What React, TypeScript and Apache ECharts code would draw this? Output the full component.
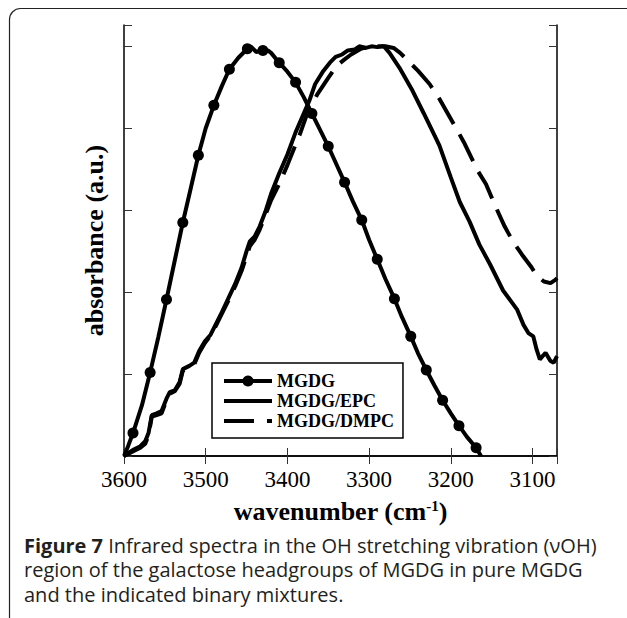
import React, { useEffect, useRef } from "react";
import * as echarts from "echarts";

// MGDG (pure) spectrum
const mgdgWave = [3600, 3595, 3589, 3578, 3568, 3558, 3548, 3538, 3528, 3518, 3509, 3500, 3490, 3480, 3471, 3460, 3449, 3445, 3438, 3430, 3424, 3420, 3410, 3400, 3390, 3380, 3370, 3360, 3350, 3340, 3330, 3320, 3309, 3300, 3290, 3280, 3269, 3260, 3249, 3240, 3230, 3220, 3210, 3200, 3190, 3180, 3169, 3163];
const mgdgAbs = [0, 0.12, 0.28, 0.62, 1.02, 1.45, 1.91, 2.38, 2.85, 3.28, 3.67, 4.0, 4.28, 4.52, 4.72, 4.86, 4.97, 5.0, 4.93, 4.95, 4.95, 4.92, 4.8, 4.69, 4.56, 4.38, 4.18, 3.98, 3.78, 3.56, 3.34, 3.11, 2.88, 2.64, 2.4, 2.16, 1.92, 1.7, 1.46, 1.25, 1.05, 0.86, 0.68, 0.52, 0.37, 0.23, 0.1, 0];
const mgdgMarkers = [3589, 3568, 3548, 3528, 3509, 3490, 3471, 3449, 3430, 3410, 3390, 3370, 3350, 3330, 3309, 3290, 3269, 3249, 3230, 3210, 3190, 3169];

// MGDG/EPC spectrum
const epcWave = [3600, 3594, 3588, 3580, 3574, 3570, 3566, 3560, 3554, 3548, 3544, 3538, 3532, 3528, 3520, 3514, 3508, 3501, 3494, 3488, 3480, 3472, 3464, 3456, 3450, 3446, 3440, 3434, 3427, 3420, 3410, 3400, 3390, 3380, 3373, 3366, 3356, 3348, 3341, 3333, 3326, 3318, 3312, 3304, 3297, 3290, 3282, 3275, 3263, 3248, 3233, 3214, 3200, 3189, 3177, 3165, 3152, 3136, 3119, 3111, 3105, 3099, 3095, 3091, 3084, 3078, 3074, 3070];
const epcAbs = [0, 0.04, 0.08, 0.12, 0.18, 0.28, 0.5, 0.52, 0.55, 0.7, 0.78, 0.8, 0.9, 1.06, 1.1, 1.14, 1.28, 1.4, 1.48, 1.6, 1.76, 1.93, 2.1, 2.3, 2.5, 2.62, 2.68, 2.8, 2.98, 3.2, 3.45, 3.68, 3.95, 4.18, 4.34, 4.54, 4.7, 4.8, 4.87, 4.9, 4.95, 4.96, 5.0, 4.98, 5.0, 4.99, 5.0, 4.92, 4.74, 4.48, 4.18, 3.79, 3.4, 3.1, 2.86, 2.58, 2.34, 2.02, 1.79, 1.6, 1.5, 1.46, 1.3, 1.18, 1.26, 1.16, 1.14, 1.22];

// MGDG/DMPC spectrum
const dmpcWave = [3600, 3594, 3588, 3580, 3574, 3570, 3566, 3560, 3554, 3548, 3544, 3538, 3532, 3528, 3520, 3514, 3508, 3501, 3494, 3488, 3480, 3472, 3464, 3456, 3450, 3446, 3440, 3434, 3427, 3420, 3410, 3400, 3390, 3385, 3375, 3363, 3351, 3340, 3330, 3322, 3310, 3300, 3290, 3280, 3270, 3262, 3255, 3240, 3226, 3214, 3194, 3184, 3167, 3157, 3145, 3134, 3124, 3113, 3101, 3095, 3086, 3078, 3072, 3070];
const dmpcAbs = [0, 0.03, 0.06, 0.1, 0.15, 0.25, 0.48, 0.5, 0.52, 0.68, 0.76, 0.79, 0.88, 1.04, 1.08, 1.12, 1.26, 1.38, 1.47, 1.58, 1.74, 1.9, 2.07, 2.26, 2.44, 2.56, 2.64, 2.76, 2.94, 3.12, 3.32, 3.55, 3.8, 3.92, 4.2, 4.42, 4.6, 4.76, 4.84, 4.9, 4.97, 5.0, 5.0, 5.0, 4.98, 4.92, 4.85, 4.7, 4.54, 4.36, 4.01, 3.83, 3.48, 3.32, 3.04, 2.8, 2.62, 2.46, 2.3, 2.2, 2.13, 2.11, 2.15, 2.17];

const seriesNames = ["MGDG", "MGDG/EPC", "MGDG/DMPC"];
const xTickValues = [3600, 3500, 3400, 3300, 3200, 3100];
const captionLines = [
  "{b|Figure 7} Infrared spectra in the OH stretching vibration (\u03bdOH)",
  "region of the galactose headgroups of MGDG in pure MGDG",
  "and the indicated binary mixtures.",
];

const SERIF = "'Liberation Serif', 'Times New Roman', serif";
const SANS = "'Open Sans', 'Noto Sans', sans-serif";
const LW = 4;

export default function App() {
  const ref = useRef<HTMLDivElement>(null);

  useEffect(() => {
    if (!ref.current) return;
    const chart = echarts.init(ref.current, null, { renderer: "svg" });

    const mgdgData = mgdgWave.map((w, i) => ({
      value: [w, mgdgAbs[i]],
      symbol: mgdgMarkers.includes(w) ? "circle" : "none",
    }));
    const epcData = epcWave.map((w, i) => [w, epcAbs[i]]);
    const dmpcData = dmpcWave.map((w, i) => [w, dmpcAbs[i]]);

    const axisLine = { show: true, lineStyle: { color: "#000", width: 1.5 } };
    const tick = { show: true, inside: true, length: 8, lineStyle: { color: "#333", width: 1 } };

    const xCommon = {
      type: "value",
      inverse: true,
      min: 3070,
      max: 3600,
      minInterval: 100,
      maxInterval: 100,
      splitLine: { show: false },
      axisLine,
      axisTick: tick,
    };
    const yCommon = {
      type: "value",
      min: 0,
      max: 5.26,
      interval: 1,
      splitLine: { show: false },
      axisLine,
      axisTick: tick,
      axisLabel: { show: false },
    };

    chart.setOption({
      animation: false,
      backgroundColor: "#fff",
      grid: { left: 124, top: 25, width: 433, height: 431, containLabel: false },
      xAxis: [
        {
          ...xCommon,
          position: "bottom",
          axisLabel: {
            show: true,
            margin: 12,
            fontFamily: SERIF,
            fontSize: 23,
            color: "#000",
            formatter: (v: number) => (xTickValues.includes(v) ? String(v) : ""),
          },
          name: "wavenumber (cm{sup|-1})",
          nameLocation: "middle",
          nameGap: 42,
          nameTextStyle: {
            fontFamily: SERIF,
            fontWeight: "bold",
            fontSize: 26,
            color: "#000",
            rich: {
              sup: {
                fontFamily: SERIF,
                fontWeight: "bold",
                fontSize: 15,
                color: "#000",
                verticalAlign: "top",
              },
            },
          },
        },
        { ...xCommon, position: "top", axisLabel: { show: false } },
      ],
      yAxis: [
        {
          ...yCommon,
          position: "left",
          name: "absorbance (a.u.)",
          nameLocation: "middle",
          nameGap: 17,
          nameTextStyle: {
            fontFamily: SERIF,
            fontWeight: "bold",
            fontSize: 26,
            color: "#000",
          },
        },
        { ...yCommon, position: "right" },
      ],
      legend: {
        show: true,
        orient: "vertical",
        left: 212,
        top: 363,
        padding: [9, 9, 8, 10],
        itemGap: 2,
        itemWidth: 48,
        itemHeight: 14,
        borderColor: "#000",
        borderWidth: 1.5,
        selectedMode: false,
        lineStyle: { width: LW },
        textStyle: { fontFamily: SERIF, fontWeight: "bold", fontSize: 18, color: "#000" },
        data: [
          { name: seriesNames[0] },
          { name: seriesNames[1], itemStyle: { opacity: 0 } },
          { name: seriesNames[2], itemStyle: { opacity: 0 }, lineStyle: { type: [30, 13], width: LW } },
        ],
      },
      series: [
        {
          name: seriesNames[1],
          type: "line",
          data: epcData,
          symbol: "none",
          lineStyle: { color: "#000", width: LW },
          itemStyle: { color: "#000" },
          z: 2,
        },
        {
          name: seriesNames[2],
          type: "line",
          data: dmpcData,
          symbol: "none",
          lineStyle: { color: "#000", width: LW, type: [30, 12] },
          itemStyle: { color: "#000" },
          z: 2,
        },
        {
          name: seriesNames[0],
          type: "line",
          data: mgdgData,
          symbol: "circle",
          symbolSize: 11,
          showSymbol: true,
          showAllSymbol: true,
          lineStyle: { color: "#000", width: LW },
          itemStyle: { color: "#000" },
          z: 3,
        },
      ],
      graphic: [
        {
          type: "rect",
          shape: { x: 9.5, y: 8.5, width: 700, height: 700, r: [11, 0, 0, 0] },
          style: { fill: "none", stroke: "#222", lineWidth: 1.2 },
          silent: true,
          z: -1,
        },
        ...captionLines.map((t, i) => ({
          type: "text",
          x: 24,
          y: 545 + i * 24.5,
          style: {
            text: t,
            fontFamily: SANS,
            fontSize: 20,
            fill: "#231f20",
            verticalAlign: "middle",
            rich: {
              b: { fontFamily: SANS, fontSize: 20, fontWeight: "bold", fill: "#231f20" },
            },
          },
          silent: true,
        })),
      ],
    });

    return () => chart.dispose();
  }, []);

  return (
    <div
      ref={ref}
      style={{ position: "absolute", left: 0, top: 0, width: 627, height: 618 }}
    />
  );
}
